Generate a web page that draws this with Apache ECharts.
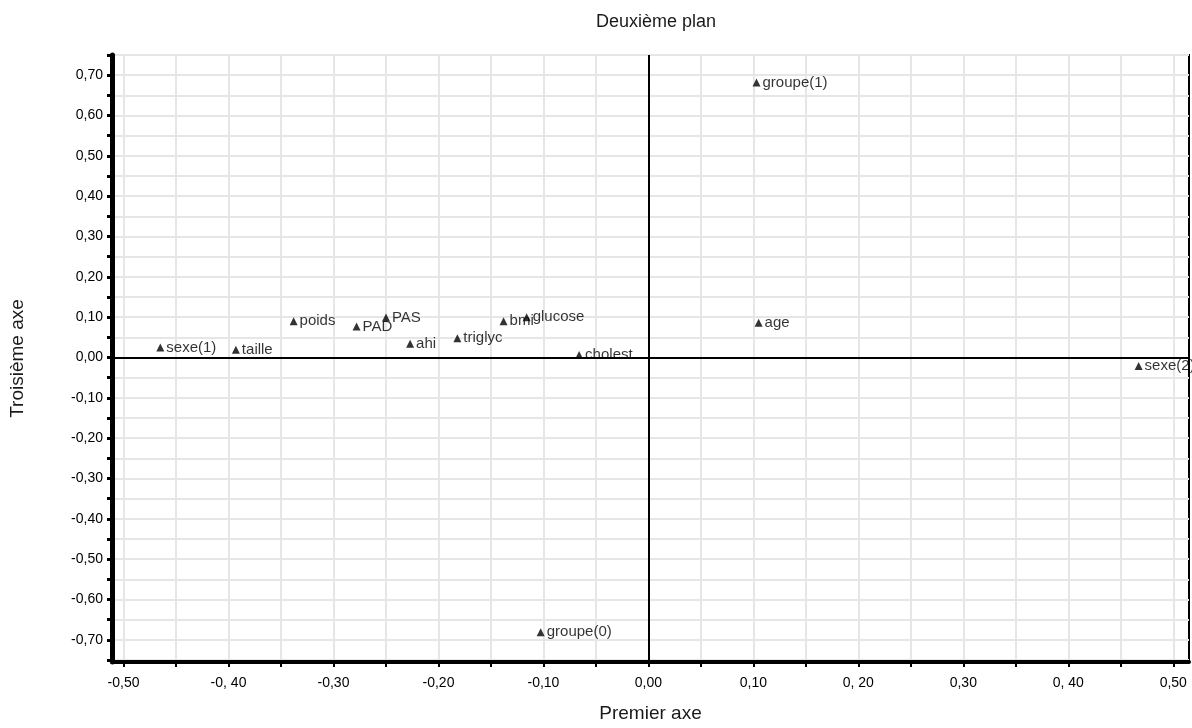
<!DOCTYPE html>
<html>
<head>
<meta charset="utf-8">
<script src="https://cdn.jsdelivr.net/npm/echarts@6/dist/echarts.min.js"></script>
<style>html,body{margin:0;padding:0;background:#fff}#c{width:1192px;height:728px}</style>
</head>
<body>
<div id="c"></div>
<script>
var names = ['sexe(1)','taille','poids','PAD','PAS','ahi','triglyc','bmi','glucose','cholest','groupe(1)','age','sexe(2)','groupe(0)'];
var xValues = [-0.465,-0.393,-0.338,-0.278,-0.250,-0.227,-0.182,-0.138,-0.116,-0.066,0.103,0.105,0.467,-0.1026];
var yValues = [0.025,0.019,0.090,0.077,0.099,0.034,0.048,0.090,0.100,0.006,0.682,0.086,-0.021,-0.681];

var xTickValues = [-0.5,-0.45,-0.4,-0.35,-0.3,-0.25,-0.2,-0.15,-0.1,-0.05,0,0.05,0.1,0.15,0.2,0.25,0.3,0.35,0.4,0.45,0.5];
var xLabelValues = [-0.5,-0.4,-0.3,-0.2,-0.1,0,0.1,0.2,0.3,0.4,0.5];
var xLabelTexts = ['-0,50','-0, 40','-0,30','-0,20','-0,10','0,00','0,10','0, 20','0,30','0, 40','0,50'];
var yTickValues = [-0.75,-0.7,-0.65,-0.6,-0.55,-0.5,-0.45,-0.4,-0.35,-0.3,-0.25,-0.2,-0.15,-0.1,-0.05,0,0.05,0.1,0.15,0.2,0.25,0.3,0.35,0.4,0.45,0.5,0.55,0.6,0.65,0.7,0.75];
var yLabelValues = [-0.7,-0.6,-0.5,-0.4,-0.3,-0.2,-0.1,0,0.1,0.2,0.3,0.4,0.5,0.6,0.7];
var yLabelTexts = ['-0,70','-0,60','-0,50','-0,40','-0,30','-0,20','-0,10','0,00','0,10','0,20','0,30','0,40','0,50','0,60','0,70'];

function labelFor(values, texts) {
  return function (v) {
    for (var i = 0; i < values.length; i++) {
      if (Math.abs(values[i] - v) < 1e-6) return texts[i];
    }
    return '';
  };
}

var data = names.map(function (n, i) { return [xValues[i], yValues[i], n]; });
var FONT = '"Liberation Sans", Arial, Helvetica, sans-serif';

var chart = echarts.init(document.getElementById('c'), null, {renderer: 'canvas'});
chart.setOption({
  animation: false,
  backgroundColor: '#fff',
  textStyle: {fontFamily: FONT},
  title: {
    text: 'Deuxième plan',
    left: 651, textAlign: 'center', top: 8,
    textStyle: {fontSize: 18, fontWeight: 'normal', color: '#1a1a1a', fontFamily: FONT}
  },
  grid: {
    left: 112, right: 3, top: 55, bottom: 62,
    show: true, borderColor: '#000', borderWidth: 2, backgroundColor: 'transparent',
    containLabel: false
  },
  xAxis: {
    type: 'value', min: -0.511, max: 0.515,
    name: 'Premier axe', nameLocation: 'middle', nameGap: 42,
    nameTextStyle: {fontSize: 19, color: '#1a1a1a', fontFamily: FONT},
    axisLine: {show: true, onZero: false, lineStyle: {color: '#000', width: 4}},
    axisTick: {show: true, inside: false, length: 5, lineStyle: {color: '#000', width: 2}, customValues: xTickValues},
    axisLabel: {show: true, margin: 14, fontSize: 14, color: '#000', fontFamily: FONT, customValues: xLabelValues, formatter: labelFor(xLabelValues, xLabelTexts)},
    splitLine: {show: true, lineStyle: {color: '#e6e6e6', width: 2}}
  },
  yAxis: {
    type: 'value', min: -0.755, max: 0.75,
    name: 'Troisième axe', nameLocation: 'middle', nameGap: 85, nameRotate: 90,
    nameTextStyle: {fontSize: 19, color: '#1a1a1a', fontFamily: FONT},
    axisLine: {show: true, onZero: false, lineStyle: {color: '#000', width: 5}},
    axisTick: {show: true, inside: false, length: 5, lineStyle: {color: '#000', width: 3}, customValues: yTickValues},
    axisLabel: {show: true, margin: 9, fontSize: 14, color: '#000', fontFamily: FONT, customValues: yLabelValues, formatter: labelFor(yLabelValues, yLabelTexts)},
    splitLine: {show: true, lineStyle: {color: '#e6e6e6', width: 2}}
  },
  series: [{
    type: 'scatter',
    data: data,
    symbol: 'triangle',
    symbolSize: [8, 8],
    itemStyle: {color: '#000'},
    label: {
      show: true, position: 'right', distance: 2,
      formatter: function (p) { return p.data[2]; },
      fontSize: 15, color: '#000', fontFamily: FONT
    },
    markLine: {
      silent: true, symbol: 'none', animation: false,
      label: {show: false},
      lineStyle: {color: '#000', width: 2, type: 'solid'},
      data: [{xAxis: 0}, {yAxis: 0}]
    },
    z: 5
  }]
});
</script>
</body>
</html>
